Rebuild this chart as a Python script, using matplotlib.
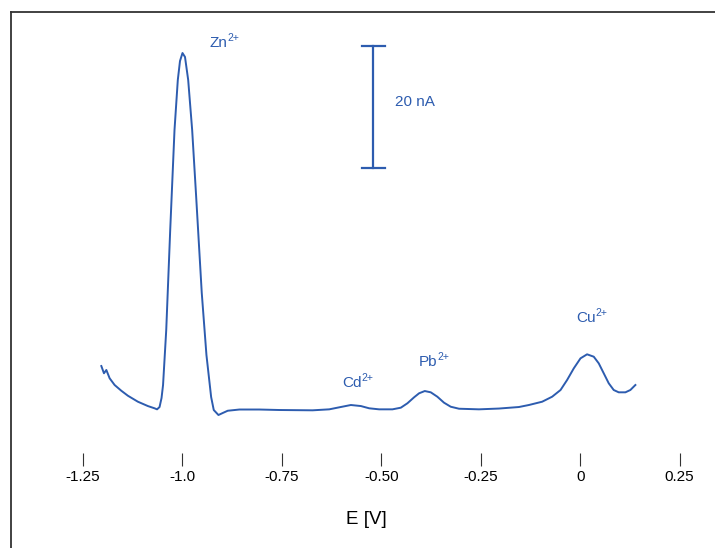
import matplotlib
matplotlib.use("Agg")
import matplotlib.pyplot as plt
from matplotlib.lines import Line2D

plt.rcParams['font.family'] = ['Liberation Sans', 'DejaVu Sans']

# ---- data (potential in V, current in nA) ----
potential = [-1.2041, -1.1975, -1.1915, -1.1832, -1.1707, -1.1539, -1.1373, -1.1122,
             -1.0871, -1.0703, -1.0640, -1.0577, -1.0527, -1.0489, -1.0409, -1.0309,
             -1.0201, -1.0118, -1.0063, -1.0000, -0.9937, -0.9857, -0.9757, -0.9656,
             -0.9516, -0.9398, -0.9280, -0.9214, -0.9096, -0.8988, -0.8863, -0.8569,
             -0.8067, -0.7565, -0.6729, -0.6310, -0.6059, -0.5766, -0.5515, -0.5306,
             -0.5055, -0.4721, -0.4510, -0.4345, -0.4177, -0.4051, -0.3908, -0.3757,
             -0.3592, -0.3424, -0.3256, -0.3047, -0.2545, -0.2043, -0.1541, -0.1290,
             -0.0956, -0.0705, -0.0494, -0.0329, -0.0161, 0.0008, 0.0173, 0.0341,
             0.0467, 0.0592, 0.0718, 0.0843, 0.0969, 0.1137, 0.1262, 0.1388]
current = [10.49, 9.30, 9.84, 8.48, 7.38, 6.44, 5.62, 4.64,
           3.93, 3.56, 3.39, 3.77, 5.25, 7.38, 16.39, 32.79,
           49.18, 57.38, 60.49, 61.80, 61.15, 57.38, 49.18, 38.20,
           22.50, 12.30, 5.41, 3.28, 2.46, 2.79, 3.16, 3.36,
           3.36, 3.28, 3.23, 3.39, 3.72, 4.10, 3.93, 3.56,
           3.39, 3.39, 3.66, 4.38, 5.36, 6.02, 6.39, 6.18,
           5.46, 4.48, 3.82, 3.49, 3.39, 3.52, 3.77, 4.10,
           4.64, 5.46, 6.56, 8.20, 10.11, 11.75, 12.41, 12.02,
           10.93, 9.30, 7.66, 6.56, 6.18, 6.18, 6.56, 7.38]

tick_values = [-1.25, -1.0, -0.75, -0.50, -0.25, 0.0, 0.25]
tick_labels = ['-1.25', '-1.0', '-0.75', '-0.50', '-0.25', '0', '0.25']

peak_names = ['Zn', 'Cd', 'Pb', 'Cu']
peak_charge = '2+'
peak_label_pos = [(-0.9309, 62.8), (-0.5989, 7.05), (-0.4053, 10.49), (-0.0106, 17.7)]

scale_value = 20  # nA
scale_label = '20 nA'

blue = '#2d5caf'

W, H = 715, 548
fig = plt.figure(figsize=(W / 100, H / 100), dpi=100)
ax = fig.add_axes([0, 0, 1, 1])
ax.set_xlim(-1.4589, 0.3390)
ax.set_ylim(-19.34, 70.49)
ax.patch.set_alpha(0)

ax.plot(potential, current, color=blue, lw=1.4, solid_joinstyle='round')

# axes styling
for s in ['top', 'left', 'right']:
    ax.spines[s].set_visible(False)
ax.spines['bottom'].set_position(('data', -5.9))
ax.spines['bottom'].set_color('none')
ax.set_yticks([])
ax.set_xticks(tick_values)
ax.set_xticklabels(tick_labels)
ax.tick_params(axis='x', direction='in', length=9.4, width=0.8, color='#333333',
               pad=3, labelsize=11, labelcolor='black')
ax.text(-0.5386, -14.75, 'E [V]', ha='center', va='center', fontsize=13.5, color='black')

# peak labels with superscript charge
for name, (x, y) in zip(peak_names, peak_label_pos):
    t = ax.text(x, y, name, color=blue, fontsize=11, ha='left', va='baseline')
    ax.annotate(peak_charge, xy=(1.0, 1.0), xycoords=t, xytext=(-0.4, 2.0),
                textcoords='offset points', ha='left', va='top', fontsize=7.5, color=blue)

# scale bar
sx, sy0 = -0.5202, 42.9
cap = 0.029
ax.plot([sx, sx], [sy0, sy0 + scale_value], color=blue, lw=1.6)
ax.plot([sx - cap, sx + cap], [sy0, sy0], color=blue, lw=1.6)
ax.plot([sx - cap, sx + cap], [sy0 + scale_value, sy0 + scale_value], color=blue, lw=1.6)
ax.text(-0.4657, 53.1, scale_label, color=blue, fontsize=11, ha='left', va='baseline')

# frame lines (left and top)
fx, fy = 11.5 / W, 1 - 11.5 / H
fig.add_artist(Line2D([fx, fx], [0, fy], transform=fig.transFigure, color='#333333', lw=1.3))
fig.add_artist(Line2D([fx, 1], [fy, fy], transform=fig.transFigure, color='#333333', lw=1.3))

fig.savefig('out.png', dpi=100, facecolor='white')
